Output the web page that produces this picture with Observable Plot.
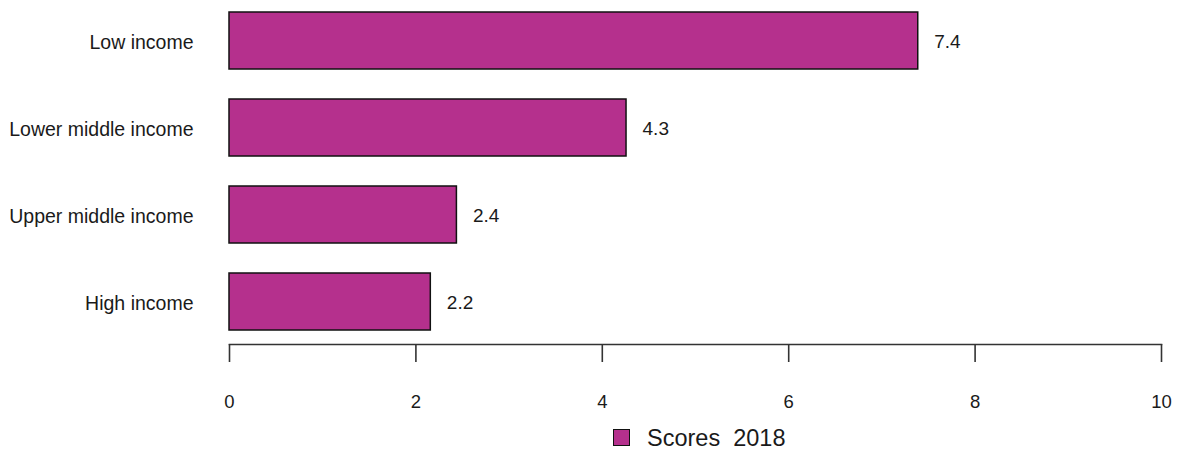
<!DOCTYPE html>
<html>
<head>
<meta charset="utf-8">
<script src="https://cdn.jsdelivr.net/npm/d3@7"></script>
<script src="https://cdn.jsdelivr.net/npm/@observablehq/plot@0.6"></script>
<style>
  html, body { margin: 0; padding: 0; background: #fff; }
  body { font-family: "Liberation Sans", Arial, sans-serif; width: 1180px; }
  #legend { position: relative; height: 36px; }
  #legend .sw { position: absolute; left: 613px; top: 9px; width: 17px; height: 17px; background: #b5308d; border: 1.5px solid #111; box-sizing: border-box; }
  #legend .lb { position: absolute; left: 647px; top: 4px; font-size: 23.5px; color: #1a1a1a; white-space: pre; line-height: 28px; }
</style>
</head>
<body>
<div id="chart"></div>
<div id="legend"><div class="sw"></div><div class="lb"></div></div>
<script>
const categories = ["Low income", "Lower middle income", "Upper middle income", "High income"];
const scores2018 = [7.39, 4.26, 2.44, 2.16];
const xTicks = [0, 2, 4, 6, 8, 10];
const seriesName = "Scores  2018";
const barColor = "#b5308d";

const data = categories.map((c, i) => ({category: c, value: scores2018[i]}));

const chart = Plot.plot({
  width: 1180,
  height: 420,
  marginLeft: 229,
  marginRight: 19,
  marginTop: 12,
  marginBottom: 76,
  style: {fontFamily: "'Liberation Sans', Arial, sans-serif", color: "#1a1a1a", background: "#fff"},
  x: {domain: [0, 10]},
  y: {domain: categories, range: [12, 330], paddingInner: 0.345, paddingOuter: 0},
  marks: [
    Plot.barX(data, {x: "value", y: "category", fill: barColor, stroke: "#111", strokeWidth: 1.5}),
    Plot.text(data, {x: "value", y: "category", text: d => d.value.toFixed(1), textAnchor: "start", dx: 16, dy: 1, fontSize: 19, fill: "#1a1a1a"}),
    Plot.frame({anchor: "bottom", stroke: "#333", strokeWidth: 1.6}),
    Plot.axisX({ticks: xTicks, tickSize: 18, tickPadding: 32, fontSize: 18.5, stroke: "#333", strokeWidth: 1.6, label: null}),
    Plot.axisY({tickSize: 0, tickPadding: 36, fontSize: 19.5, dy: 1.5, label: null})
  ]
});
document.getElementById("chart").appendChild(chart);
document.querySelector("#legend .lb").textContent = seriesName;
</script>
</body>
</html>
